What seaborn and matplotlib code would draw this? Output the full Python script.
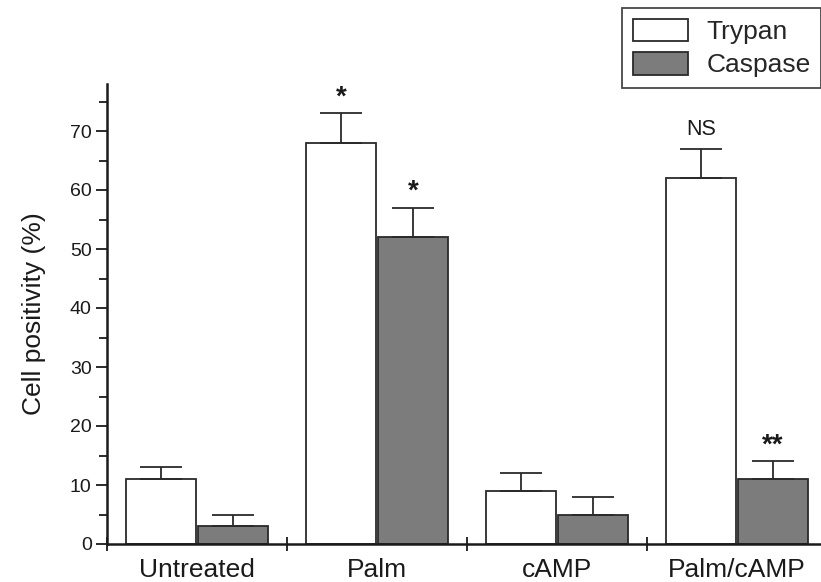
import matplotlib
matplotlib.use("Agg")
import matplotlib.pyplot as plt
import seaborn as sns
import pandas as pd
import numpy as np
from matplotlib.ticker import MultipleLocator, FixedLocator, NullFormatter

# ---- data ----
categories = ["Untreated", "Palm", "cAMP", "Palm/cAMP"]
series = ["Trypan", "Caspase"]
trypan = [11, 68, 9, 62]
caspase = [3, 52, 5, 11]
trypan_err = [2, 5, 3, 5]
caspase_err = [2, 5, 3, 3]
trypan_marks = ["", "*", "", "NS"]
caspase_marks = ["", "*", "", "**"]

df = pd.DataFrame({
    "Treatment": categories * 2,
    "Assay": [series[0]] * 4 + [series[1]] * 4,
    "Value": trypan + caspase,
})

sns.set_style("ticks")
plt.rcParams["font.family"] = ["Liberation Sans", "DejaVu Sans"]

fig = plt.figure(figsize=(8.21, 5.82), dpi=100)
W, H = 821, 582
y0_px, px_per_unit = 544, 5.9
ymax = 78
left_px, right_px = 107, 827
ax = fig.add_axes([left_px / W, 1 - y0_px / H, (right_px - left_px) / W,
                   ymax * px_per_unit / H])

palette = {"Trypan": "#ffffff", "Caspase": "#7c7c7c"}
sns.barplot(data=df, x="Treatment", y="Value", hue="Assay", order=categories,
            hue_order=series, palette=palette, width=0.8, gap=0.025,
            edgecolor="#2a2a2a", linewidth=1.3, saturation=1, ax=ax,
            legend=True, errorbar=None)

# error bars (upper only) and significance marks
bars = ax.patches
n = len(categories)
for k, (vals, errs, marks) in enumerate([(trypan, trypan_err, trypan_marks),
                                         (caspase, caspase_err, caspase_marks)]):
    for i in range(n):
        p = bars[k * n + i]
        xc = p.get_x() + p.get_width() / 2
        ax.errorbar(xc, vals[i], yerr=[[0], [errs[i]]], fmt="none",
                    ecolor="#2a2a2a", elinewidth=1.3, capsize=15, capthick=1.3,
                    zorder=3)
        m = marks[i]
        if m:
            if m == "NS":
                ax.annotate(m, (xc, vals[i] + errs[i]), xytext=(0, 6),
                            textcoords="offset points", ha="center", va="bottom",
                            fontsize=15.5, color="#1a1a1a")
            else:
                ax.annotate(m, (xc, vals[i] + errs[i]), xytext=(0, 2),
                            textcoords="offset points", ha="center", va="bottom",
                            fontsize=20, fontweight="bold", color="#1a1a1a")

ax.set_xlim(-0.5, 3.5)
ax.set_ylim(0, ymax)

ax.yaxis.set_major_locator(MultipleLocator(10))
ax.yaxis.set_minor_locator(FixedLocator(np.arange(5, 80, 10)))
ax.set_yticks(np.arange(0, 80, 10))
ax.tick_params(axis="y", which="major", direction="out", length=8, width=1.3,
               labelsize=14, colors="#1a1a1a", pad=3)
ax.tick_params(axis="y", which="minor", direction="out", length=5.5, width=1.3,
               colors="#1a1a1a")

ax.set_xticks(range(n))
ax.set_xticklabels(categories)
ax.xaxis.set_minor_locator(FixedLocator([-0.5, 0.5, 1.5, 2.5, 3.5]))
ax.xaxis.set_minor_formatter(NullFormatter())
ax.tick_params(axis="x", which="major", length=0, labelsize=19,
               colors="#1a1a1a", pad=10)
ax.tick_params(axis="x", which="minor", direction="inout", length=10,
               width=1.3, colors="#1a1a1a")

for s in ["top", "right"]:
    ax.spines[s].set_visible(False)
for s in ["left", "bottom"]:
    ax.spines[s].set_linewidth(1.8)
    ax.spines[s].set_color("#1a1a1a")

ax.set_xlabel("")
ax.set_ylabel("Cell positivity (%)", fontsize=19, color="#1a1a1a", labelpad=17)

leg = ax.legend(loc="upper left", bbox_to_anchor=(622 / W, 1 - 8 / H),
                bbox_transform=fig.transFigure, borderaxespad=0,
                fontsize=19, frameon=True, fancybox=False, edgecolor="#1a1a1a",
                handlelength=2.1, handleheight=0.95, handletextpad=0.7,
                labelspacing=0.3, borderpad=0.4)
leg.get_frame().set_linewidth(1.3)
for h in leg.legend_handles:
    h.set_edgecolor("#2a2a2a")
    h.set_linewidth(1.3)

fig.savefig("out.png", dpi=100)
